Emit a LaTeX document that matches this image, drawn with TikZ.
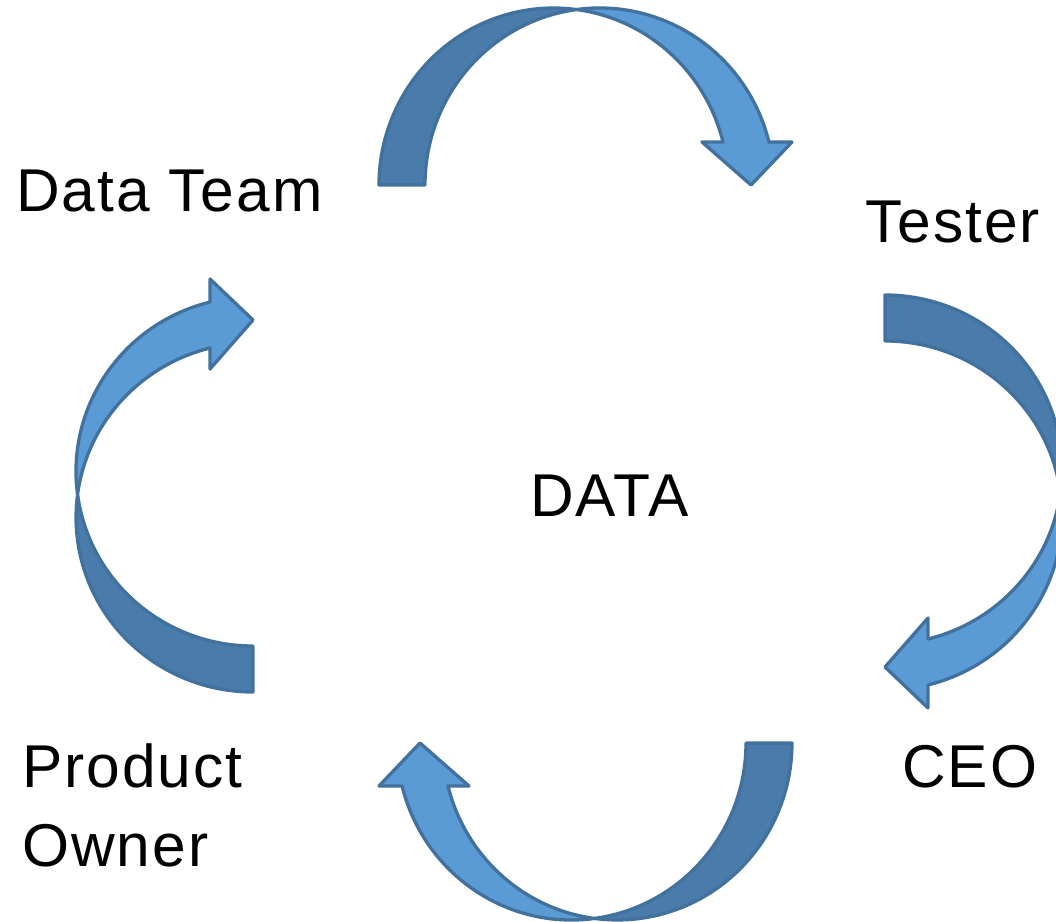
\documentclass[tikz,border=0pt]{standalone}
\usepackage{fontspec}
\setmainfont{Liberation Sans}[LetterSpace=3.3]
\definecolor{arrowlight}{HTML}{5B9BD5}
\definecolor{arrowdark}{HTML}{497CAA}
\definecolor{arrowline}{HTML}{41719C}
\tikzset{
  band/.style={draw=arrowline, line width=0.066cm, line join=round},
  backband/.style={band, fill=arrowdark},
  frontband/.style={band, fill=arrowlight},
  lbl/.style={inner sep=0pt, anchor=base west, font=\fontsize{34.4pt}{45.5pt}\selectfont},
}
\newcommand\cyclearrow{%
  \path[backband] (379,-185)
    arc[start angle=180,end angle=82.43,x radius=3.492cm,y radius=3.54cm]
    arc[start angle=97.57,end angle=180,x radius=3.492cm,y radius=3.54cm] -- cycle;
  \path[frontband] (576.6,-9.54)
    arc[start angle=97.57,end angle=14.06,x radius=3.492cm,y radius=3.54cm]
    -- (792,-142) -- (751,-185) -- (702,-142) -- (723.0,-142)
    arc[start angle=14.06,end angle=82.43,x radius=3.492cm,y radius=3.54cm] -- cycle;
}
\begin{document}
\begin{tikzpicture}[x=0.02cm,y=0.02cm]
\clip (0,0) rectangle (1056,-922);
\begin{scope}\cyclearrow\end{scope}
\begin{scope}[shift={(885,-295)},rotate=-90,shift={(-379,185)}]\cyclearrow\end{scope}
\begin{scope}[shift={(792,-743)},rotate=180,shift={(-379,185)}]\cyclearrow\end{scope}
\begin{scope}[shift={(253,-692)},rotate=90,shift={(-379,185)}]\cyclearrow\end{scope}
\node[lbl] (dt) at (16,-212) {Data Team};
\node[lbl] (tester) at (865,-243) {Tester};
\node[lbl] (data) at (530,-517) {DATA};
\node[lbl] (ceo) at (902,-787) {CEO};
\node[lbl] (po) at (22,-787) {\begin{tabular}[t]{@{}l@{}}Product\\Owner\end{tabular}};
\end{tikzpicture}
\end{document}
